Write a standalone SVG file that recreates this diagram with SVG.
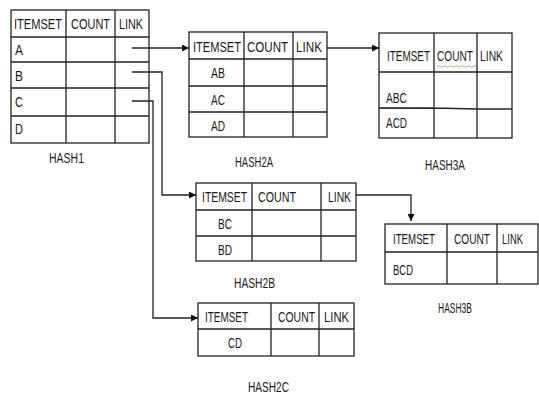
<svg xmlns="http://www.w3.org/2000/svg" width="539" height="394" viewBox="0 0 539 394">
<style>
.t{fill:none;stroke:#222;stroke-width:1.3}
.g{stroke:#222;stroke-width:1.3}
text{font-family:"Liberation Sans",Arial,sans-serif;font-size:15px;fill:#1a1a1a}
.c{text-anchor:middle}
.w{fill:none;stroke:#222;stroke-width:1.3}
</style>
<defs>
<marker id="ah" viewBox="0 0 10 10" refX="10" refY="5" markerWidth="7" markerHeight="7" markerUnits="userSpaceOnUse" orient="auto">
<path d="M0,0 L10,5 L0,10 z" fill="#111"/>
</marker>
</defs>
<rect width="539" height="394" fill="#fff"/>

<g id="hash1">
<rect class="t" x="11" y="10" width="138" height="133"/>
<path class="g" d="M11,37H149M11,62H149M11,88H149M11,116H149M66,10V143M115,10V143"/>
<text x="14" y="29" textLength="48" lengthAdjust="spacingAndGlyphs">ITEMSET</text>
<text x="71" y="29" textLength="39" lengthAdjust="spacingAndGlyphs">COUNT</text>
<text x="119" y="29" textLength="24" lengthAdjust="spacingAndGlyphs">LINK</text>
<text x="15" y="55" textLength="8" lengthAdjust="spacingAndGlyphs">A</text>
<text x="15" y="81" textLength="8" lengthAdjust="spacingAndGlyphs">B</text>
<text x="15" y="107" textLength="8" lengthAdjust="spacingAndGlyphs">C</text>
<text x="15" y="134" textLength="8" lengthAdjust="spacingAndGlyphs">D</text>
<text x="49" y="163" textLength="35" lengthAdjust="spacingAndGlyphs">HASH1</text>
</g>

<g id="hash2a">
<rect class="t" x="189" y="32" width="138" height="105"/>
<path class="g" d="M189,59H327M189,86H327M189,112H327M244,32V137M293,32V137"/>
<text x="193" y="52" textLength="48" lengthAdjust="spacingAndGlyphs">ITEMSET</text>
<text x="247" y="52" textLength="41" lengthAdjust="spacingAndGlyphs">COUNT</text>
<text x="296" y="52" textLength="26" lengthAdjust="spacingAndGlyphs">LINK</text>
<text class="c" x="218" y="78" textLength="14" lengthAdjust="spacingAndGlyphs">AB</text>
<text class="c" x="218" y="105" textLength="14" lengthAdjust="spacingAndGlyphs">AC</text>
<text class="c" x="218" y="131" textLength="14" lengthAdjust="spacingAndGlyphs">AD</text>
<text x="235" y="167" textLength="38" lengthAdjust="spacingAndGlyphs">HASH2A</text>
</g>

<g id="hash3a">
<rect class="t" x="379" y="33" width="133" height="105"/>
<path class="g" d="M379,72H512M379,108H434L477,109H512M434,33V138M477,33V138"/>
<text x="387" y="61" textLength="43" lengthAdjust="spacingAndGlyphs">ITEMSET</text>
<text x="437" y="61" textLength="36" lengthAdjust="spacingAndGlyphs">COUNT</text>
<text x="480" y="61" textLength="23" lengthAdjust="spacingAndGlyphs">LINK</text>
<path d="M437,66.5q1.5,-1.5 3,0t3,0t3,0t3,0t3,0t3,0t3,0t3,0t3,0t3,0t3,0t3,0t3,0" fill="none" stroke="#7f9f62" stroke-width="0.8"/>
<text x="386" y="103" textLength="21" lengthAdjust="spacingAndGlyphs">ABC</text>
<text x="386" y="128" textLength="21" lengthAdjust="spacingAndGlyphs">ACD</text>
<text x="425" y="170" textLength="40" lengthAdjust="spacingAndGlyphs">HASH3A</text>
</g>

<g id="hash2b">
<rect class="t" x="196" y="183" width="160" height="78"/>
<path class="g" d="M196,210H356M196,236H356M252,183V261M321,183V261"/>
<text x="202" y="202" textLength="45" lengthAdjust="spacingAndGlyphs">ITEMSET</text>
<text x="258" y="202" textLength="38" lengthAdjust="spacingAndGlyphs">COUNT</text>
<text x="328" y="202" textLength="23" lengthAdjust="spacingAndGlyphs">LINK</text>
<text class="c" x="225" y="229" textLength="14" lengthAdjust="spacingAndGlyphs">BC</text>
<text class="c" x="225" y="255" textLength="14" lengthAdjust="spacingAndGlyphs">BD</text>
<text x="234" y="288" textLength="41" lengthAdjust="spacingAndGlyphs">HASH2B</text>
</g>

<g id="hash3b">
<rect class="t" x="385" y="224" width="153" height="60"/>
<path class="g" d="M385,252H538M447,224V284M497,224V284"/>
<text x="393" y="244" textLength="42" lengthAdjust="spacingAndGlyphs">ITEMSET</text>
<text x="454" y="244" textLength="36" lengthAdjust="spacingAndGlyphs">COUNT</text>
<text x="502" y="244" textLength="21" lengthAdjust="spacingAndGlyphs">LINK</text>
<text x="393" y="275" textLength="20" lengthAdjust="spacingAndGlyphs">BCD</text>
<text x="438" y="313" textLength="34" lengthAdjust="spacingAndGlyphs">HASH3B</text>
</g>

<g id="hash2c">
<rect class="t" x="198" y="303" width="156" height="53"/>
<path class="g" d="M198,329H354M271,303V356M319,303V356"/>
<text x="205" y="322" textLength="43" lengthAdjust="spacingAndGlyphs">ITEMSET</text>
<text x="278" y="322" textLength="37" lengthAdjust="spacingAndGlyphs">COUNT</text>
<text x="324" y="322" textLength="25" lengthAdjust="spacingAndGlyphs">LINK</text>
<text class="c" x="235" y="348" textLength="14" lengthAdjust="spacingAndGlyphs">CD</text>
<text x="248" y="392" textLength="41" lengthAdjust="spacingAndGlyphs">HASH2C</text>
</g>

<g id="connectors">
<path class="w" d="M132,48H189" marker-end="url(#ah)"/>
<path class="w" d="M327,48H379" marker-end="url(#ah)"/>
<path class="w" d="M132,72H162V195H196" marker-end="url(#ah)"/>
<path class="w" d="M132,101H153V318H198" marker-end="url(#ah)"/>
<path class="w" d="M356,195H411V221" marker-end="url(#ah)"/>
</g>
</svg>
